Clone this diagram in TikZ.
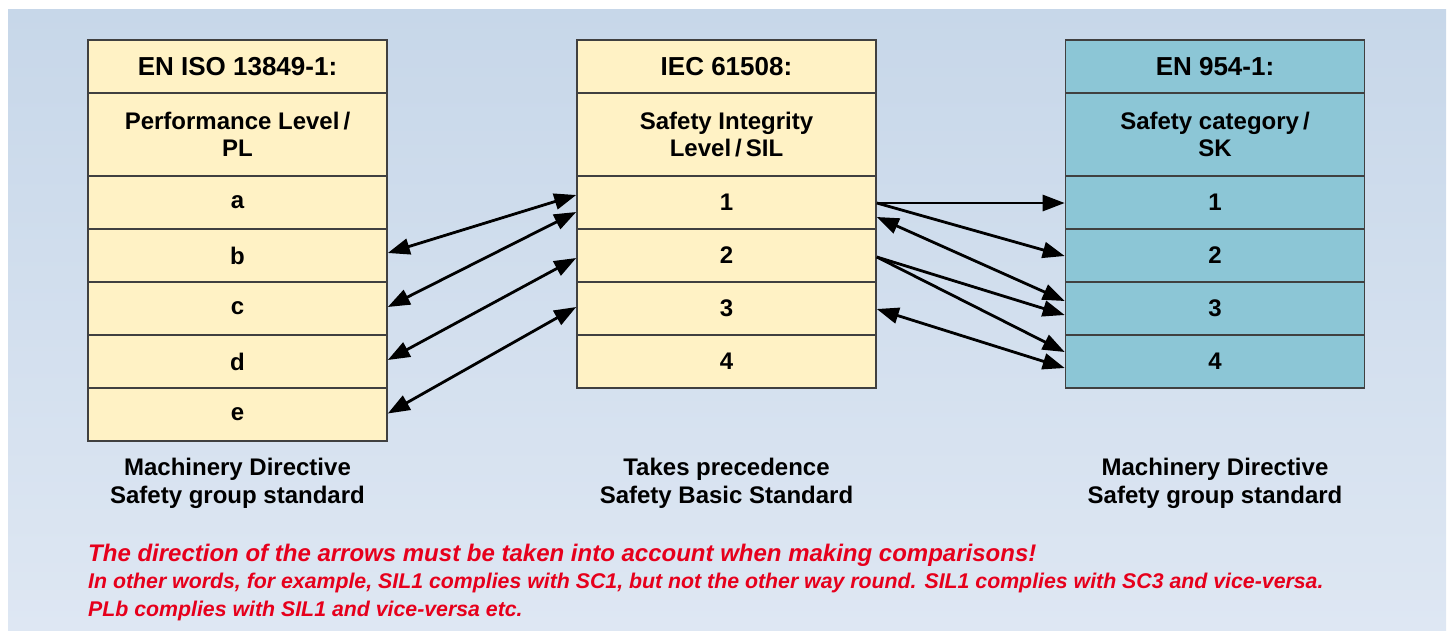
\documentclass[tikz,border=0pt]{standalone}
\usepackage{fontspec}
\setmainfont{Liberation Sans}
\usetikzlibrary{arrows.meta,calc}
\definecolor{bgtop}{RGB}{199,215,233}
\definecolor{bgbot}{RGB}{222,231,243}
\definecolor{cellyellow}{RGB}{255,242,197}
\definecolor{cellteal}{RGB}{140,198,214}
\definecolor{cellborder}{RGB}{64,64,64}
\definecolor{notered}{RGB}{230,0,28}
\tikzset{
  x=1pt, y=-1pt,
  cell/.style={draw=cellborder, line width=1.6pt, minimum width=299pt, inner sep=0pt,
     font=\fontsize{24}{27}\selectfont\bfseries, align=center, text=black},
  ycell/.style={cell, fill=cellyellow},
  tcell/.style={cell, fill=cellteal},
  hdr/.style={minimum height=53pt, font=\fontsize{26}{29}\selectfont\bfseries},
  ttl/.style={minimum height=83pt},
  row/.style={minimum height=53pt},
  conn/.style={line width=2.8pt, >={Triangle[length=22pt,width=16pt]}, ->},
  bconn/.style={line width=2.8pt, >={Triangle[length=22pt,width=16pt]}, <->},
  caption/.style={font=\fontsize{24}{28}\selectfont\bfseries, align=center},
  note/.style={anchor=west, inner sep=0pt, text=notered},
}
\begin{document}
\begin{tikzpicture}
\useasboundingbox (0,0) rectangle (1451,630);
\shade[top color=bgtop, bottom color=bgbot] (8,9) rectangle (1446,630);

% left column
\node[ycell,hdr] (ph) at (237.5,66.5) {EN ISO 13849-1:};
\node[ycell,ttl] (pt) at (237.5,134.5) {Performance Level\,/\\PL};
\node[ycell,row] (pa) at (237.5,202.5) {a};
\node[ycell,row] (pb) at (237.5,255.5) {b};
\node[ycell,row] (pc) at (237.5,308.5) {c};
\node[ycell,row] (pd) at (237.5,361.5) {d};
\node[ycell,row] (pe) at (237.5,414.5) {e};

% middle column
\node[ycell,hdr] (sh) at (726.5,66.5) {IEC 61508:};
\node[ycell,ttl] (st) at (726.5,134.5) {Safety Integrity\\Level\,/\,SIL};
\node[ycell,row] (s1) at (726.5,202.5) {1};
\node[ycell,row] (s2) at (726.5,255.5) {2};
\node[ycell,row] (s3) at (726.5,308.5) {3};
\node[ycell,row] (s4) at (726.5,361.5) {4};

% right column
\node[tcell,hdr] (kh) at (1215,66.5) {EN 954-1:};
\node[tcell,ttl] (kt) at (1215,134.5) {Safety category\,/\\SK};
\node[tcell,row] (k1) at (1215,202.5) {1};
\node[tcell,row] (k2) at (1215,255.5) {2};
\node[tcell,row] (k3) at (1215,308.5) {3};
\node[tcell,row] (k4) at (1215,361.5) {4};

% PL <-> SIL
\draw[bconn] ([yshift=2.5pt]pb.east) -- ([yshift=7.5pt]s1.west);
\draw[bconn] ([yshift=1.5pt]pc.east) -- ([yshift=-9.5pt]s1.west);
\draw[bconn] ([yshift=1.5pt]pd.east) -- ([yshift=-2.5pt]s2.west);
\draw[bconn] ([yshift=1pt]pe.east) -- ([yshift=1.5pt]s3.west);

% SIL -> SK
\draw[conn] ([yshift=-0.5pt]s1.east) -- ([yshift=-0.5pt]k1.west);
\draw[conn] ([yshift=-0.5pt]s1.east) -- ([yshift=-0.5pt]k2.west);
\draw[bconn] ([yshift=-14.5pt]s1.east) -- ([yshift=7.5pt]k3.west);
\draw[conn] ([yshift=-1.5pt]s2.east) -- ([yshift=-6.5pt]k3.west);
\draw[conn] ([yshift=-1.5pt]s2.east) -- ([yshift=9.5pt]k4.west);
\draw[bconn] ([yshift=-0.5pt]s3.east) -- ([yshift=-6.5pt]k4.west);

% captions
\node[caption] (pcap) at (237.5,483) {Machinery Directive\\Safety group standard};
\node[caption] (scap) at (726.5,483) {Takes precedence\\Safety Basic Standard};
\node[caption] (kcap) at (1215,483) {Machinery Directive\\Safety group standard};

% notes
\node[note, font=\fontsize{24}{27}\selectfont\bfseries\itshape] (n1) at (88,555) {The direction of the arrows must be taken into account when making comparisons!};
\node[note, font=\fontsize{21.3}{24}\selectfont\bfseries\itshape] (n2) at (88,583) {In other words, for example, SIL1 complies with SC1, but not the other way round. SIL1 complies with SC3 and vice-versa.};
\node[note, font=\fontsize{21.3}{24}\selectfont\bfseries\itshape] (n3) at (88,611) {PLb complies with SIL1 and vice-versa etc.};
\end{tikzpicture}
\end{document}
